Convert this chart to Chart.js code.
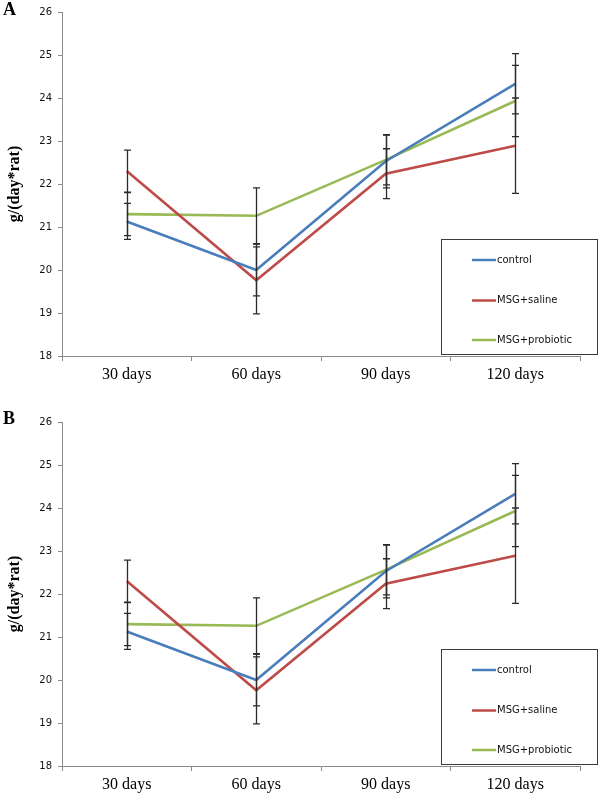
<!DOCTYPE html>
<html>
<head>
<meta charset="utf-8">
<script src="https://cdn.jsdelivr.net/npm/chart.js@4.4.1/dist/chart.umd.min.js"></script>
<style>
  body { margin: 0; background: #fff; width: 600px; height: 794px; position: relative; overflow: hidden; }
  canvas { position: absolute; left: 0; }
  .panel { position: absolute; left: 3px; font: bold 18px/18px "Liberation Serif", serif; color: #000; z-index: 2; }
</style>
</head>
<body>
<canvas id="chartA" width="600" height="384" style="top:0px"></canvas>
<canvas id="chartB" width="600" height="384" style="top:410px"></canvas>
<div class="panel" style="top:0px">A</div>
<div class="panel" style="top:409px">B</div>
<script>
// values (g per day per rat)
const categories = ['30 days', '60 days', '90 days', '120 days'];
const control = [21.13, 20.00, 22.53, 24.33];
const msgSaline = [22.30, 19.76, 22.24, 22.89];
const msgProbiotic = [21.30, 21.26, 22.56, 23.93];
// +/- error for each point
const errControl = [0.42, 0.60, 0.62, 0.70];
const errSaline = [0.49, 0.78, 0.58, 1.11];
const errProbiotic = [0.50, 0.65, 0.58, 0.83];
const yMin = 18, yMax = 26, yStep = 1;

const errorBars = {
  id: 'errorBars',
  afterDatasetsDraw(chart) {
    const ctx = chart.ctx;
    const y = chart.scales.y;
    chart.data.datasets.forEach((ds, i) => {
      chart.getDatasetMeta(i).data.forEach((pt, j) => {
        const top = y.getPixelForValue(ds.data[j] + ds.err[j]);
        const bot = y.getPixelForValue(ds.data[j] - ds.err[j]);
        const x = Math.round(pt.x) + 0.5;
        ctx.save();
        ctx.strokeStyle = '#2b2b2b';
        ctx.lineWidth = 1.3;
        ctx.beginPath();
        ctx.moveTo(x, top); ctx.lineTo(x, bot);
        ctx.moveTo(x - 3.5, top); ctx.lineTo(x + 3.5, top);
        ctx.moveTo(x - 3.5, bot); ctx.lineTo(x + 3.5, bot);
        ctx.stroke();
        ctx.restore();
      });
    });
  }
};

// boxed legend in the lower right corner, like the original
const boxLegend = {
  id: 'boxLegend',
  afterDraw(chart) {
    const ctx = chart.ctx;
    const area = chart.chartArea;
    const left = area.right - 139, right = area.right + 17;
    const top = area.top + 227, bottom = area.bottom - 2;
    ctx.save();
    ctx.fillStyle = '#fff';
    ctx.fillRect(left, top, right - left, bottom - top);
    ctx.strokeStyle = '#3a3a3a';
    ctx.lineWidth = 1;
    ctx.strokeRect(left + 0.5, top + 0.5, right - left, bottom - top);
    const rows = [21, 61.5, 101];
    ctx.font = '10px "DejaVu Sans", sans-serif';
    ctx.textBaseline = 'middle';
    chart.data.datasets.forEach((ds, i) => {
      const yy = top + rows[i];
      ctx.strokeStyle = ds.borderColor;
      ctx.lineWidth = 2.5;
      ctx.beginPath();
      ctx.moveTo(left + 31, yy); ctx.lineTo(left + 55, yy);
      ctx.stroke();
      ctx.fillStyle = '#111';
      ctx.fillText(ds.label, left + 56, yy);
    });
    ctx.restore();
  }
};

function makeChart(id) {
  return new Chart(document.getElementById(id), {
    type: 'line',
    data: {
      labels: categories,
      datasets: [
        { label: 'control', data: control, err: errControl, borderColor: '#4a7ebb' },
        { label: 'MSG+saline', data: msgSaline, err: errSaline, borderColor: '#be4b48' },
        { label: 'MSG+probiotic', data: msgProbiotic, err: errProbiotic, borderColor: '#98b954' }
      ].map(d => Object.assign(d, { borderWidth: 2.6, pointRadius: 0, tension: 0, fill: false }))
    },
    options: {
      responsive: false,
      animation: false,
      devicePixelRatio: 1,
      layout: { padding: { top: 8, right: 20, left: 0, bottom: 0 } },
      plugins: { legend: { display: false }, tooltip: { enabled: false } },
      scales: {
        x: {
          offset: true,
          grid: { offset: true, drawOnChartArea: false, tickLength: 5, color: '#8a8a8a' },
          border: { color: '#8a8a8a' },
          ticks: { color: '#000', padding: 4, font: { family: 'Liberation Serif', size: 16 } },
          afterFit(scale) { scale.height = 28; }
        },
        y: {
          min: yMin, max: yMax,
          grid: { drawOnChartArea: false, tickLength: 4, color: '#8a8a8a' },
          border: { color: '#8a8a8a' },
          ticks: { stepSize: yStep, color: '#111', padding: 6, font: { family: 'DejaVu Sans', size: 10 } },
          title: { display: true, text: 'g/(day*rat)', color: '#000', padding: 5,
                   font: { family: 'Liberation Serif', size: 16, weight: 'bold' } },
          afterFit(scale) { scale.width = 62; }
        }
      }
    },
    plugins: [errorBars, boxLegend]
  });
}

makeChart('chartA');
makeChart('chartB');
</script>
</body>
</html>
